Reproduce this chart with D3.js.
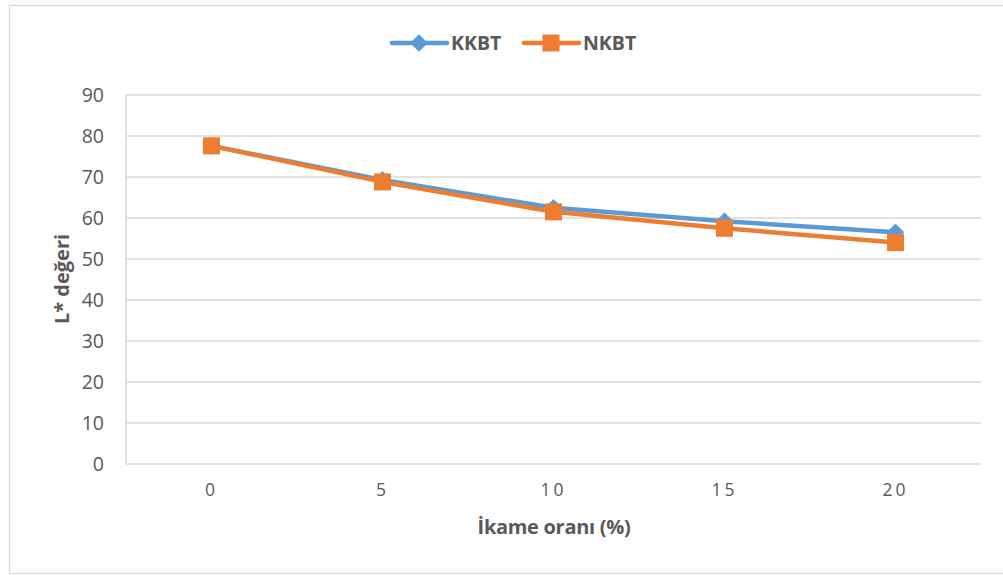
<!DOCTYPE html>
<html><head><meta charset="utf-8">
<script src="https://cdn.jsdelivr.net/npm/d3@7"></script>
<style>html,body{margin:0;padding:0;background:#fff;}svg{display:block;}</style>
</head><body>
<svg id="c" width="1003" height="575"></svg>
<script>
const categories = ["0", "5", "10", "15", "20"];
const kkbt = [77.6, 69.3, 62.5, 59.2, 56.5];
const nkbt = [77.6, 68.8, 61.5, 57.5, 54.0];
const yTicks = [0, 10, 20, 30, 40, 50, 60, 70, 80, 90];
const seriesNames = ["KKBT", "NKBT"];
const seriesColors = ["#5B9BD5", "#ED7D31"];

const svg = d3.select("#c");
const font = "'Open Sans', 'Liberation Sans', sans-serif";
const txt = "#595959";

svg.append("rect").attr("x", 9.5).attr("y", 5.5).attr("width", 1010).attr("height", 568)
  .attr("fill", "#fff").attr("stroke", "#d9d9d9").attr("stroke-width", 1.3);

const L = 126, R = 981, T = 95, B = 464;
const x = d3.scaleBand().domain(categories).range([L, R]);
const y = d3.scaleLinear().domain([0, 90]).range([B, T]);

// gridlines
svg.append("g").selectAll("line").data(yTicks).join("line")
  .attr("x1", L).attr("x2", R).attr("y1", d => y(d)).attr("y2", d => y(d))
  .attr("stroke", "#d9d9d9").attr("stroke-width", 1.5);
// y axis line
svg.append("line").attr("x1", L).attr("x2", L).attr("y1", T).attr("y2", B)
  .attr("stroke", "#d9d9d9").attr("stroke-width", 1.5);

// y axis labels
const yAxis = d3.axisLeft(y).tickValues(yTicks).tickSize(0).tickPadding(22);
const gy = svg.append("g").attr("transform", `translate(${L},0)`).call(yAxis);
gy.select(".domain").remove();
gy.selectAll("text").attr("font-family", font).attr("font-size", 19.5).attr("fill", txt);

// x axis labels
const xAxis = d3.axisBottom(x).tickSize(0).tickPadding(20);
const gx = svg.append("g").attr("transform", `translate(0,${B})`).call(xAxis);
gx.select(".domain").remove();
gx.selectAll("text").attr("font-family", font).attr("font-size", 17.5).attr("fill", txt)
  .attr("letter-spacing", "3px");

// axis titles
svg.append("text").attr("x", 554).attr("y", 534).attr("text-anchor", "middle")
  .attr("font-family", font).attr("font-size", 20).attr("font-weight", "bold").attr("fill", txt)
  .attr("letter-spacing", "-0.3px")
  .text("İkame oranı (%)");
svg.append("text").attr("transform", "translate(69,279) rotate(-90)").attr("text-anchor", "middle")
  .attr("font-family", font).attr("font-size", 20).attr("font-weight", "bold").attr("fill", txt)
  .text("L* değeri");

const cx = (d, i) => x(categories[i]) + x.bandwidth() / 2;
const line = d3.line().x((d, i) => cx(d, i)).y(d => y(d));
const diamond = d3.symbol().type(d3.symbolDiamond2).size(200);

// KKBT
svg.append("path").datum(kkbt).attr("d", line).attr("fill", "none")
  .attr("stroke", seriesColors[0]).attr("stroke-width", 4.5).attr("stroke-linejoin", "round");
svg.append("g").selectAll("path").data(kkbt).join("path")
  .attr("d", diamond).attr("fill", seriesColors[0])
  .attr("transform", (d, i) => `translate(${cx(d, i)},${y(d)})`);
// NKBT
svg.append("path").datum(nkbt).attr("d", line).attr("fill", "none")
  .attr("stroke", seriesColors[1]).attr("stroke-width", 4.5).attr("stroke-linejoin", "round");
svg.append("g").selectAll("rect").data(nkbt).join("rect")
  .attr("x", (d, i) => cx(d, i) - 8.5).attr("y", d => y(d) - 8.5)
  .attr("width", 17).attr("height", 17).attr("fill", seriesColors[1]);

// legend
const leg = [{x0: 392, mx: 419, tx: 451}, {x0: 524, mx: 551, tx: 583}];
seriesNames.forEach((n, i) => {
  const g = svg.append("g");
  const p = leg[i];
  g.append("line").attr("x1", p.x0).attr("x2", p.x0 + 55).attr("y1", 43).attr("y2", 43)
    .attr("stroke", seriesColors[i]).attr("stroke-width", 4.5).attr("stroke-linecap", "round");
  if (i === 0) {
    g.append("path").attr("d", diamond).attr("fill", seriesColors[0]).attr("transform", `translate(${p.mx},43)`);
  } else {
    g.append("rect").attr("x", p.mx - 8.5).attr("y", 43 - 8.5).attr("width", 17).attr("height", 17).attr("fill", seriesColors[1]);
  }
  g.append("text").attr("x", p.tx).attr("y", 50).attr("font-family", font).attr("font-size", 19.5)
    .attr("font-weight", "bold").attr("fill", txt).text(n);
});
</script>
</body></html>
